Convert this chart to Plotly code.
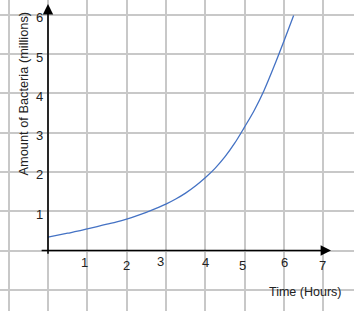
import plotly.graph_objects as go

# Data (every quarter hour)
hours = [0, 0.25, 0.5, 0.75, 1, 1.25, 1.5, 1.75, 2, 2.25, 2.5, 2.75, 3, 3.25, 3.5, 3.75,
         4, 4.25, 4.5, 4.75, 5, 5.25, 5.5, 5.75, 6, 6.25]
bacteria = [0.34, 0.39, 0.44, 0.49, 0.55, 0.61, 0.67, 0.73, 0.80, 0.88, 0.97, 1.07, 1.18, 1.31,
            1.46, 1.64, 1.85, 2.09, 2.38, 2.73, 3.14, 3.57, 4.08, 4.68, 5.32, 5.98]
x_ticks = [1, 2, 3, 4, 5, 6, 7]
y_ticks = [1, 2, 3, 4, 5, 6]

# Small hand-placement offsets of the x tick labels (px)
x_label_dx = [-3, 0, -5, 0, -2, 1, -1]
x_label_dy = [-12, -15, -11, -12, -15, -12, -15]

UNIT = 39.3
W, H = 354, 311
OX, OY = 48, 250.5
xr = [-OX / UNIT, (W - OX) / UNIT]
yr = [-(H - OY) / UNIT, OY / UNIT]

FONT = "Liberation Sans, Arial, sans-serif"

fig = go.Figure()
fig.add_trace(go.Scatter(x=hours, y=bacteria, mode="lines",
                         line=dict(color="#4472C4", width=1.3, shape="spline", smoothing=1),
                         hoverinfo="skip", showlegend=False))

ann = []
# axes with arrows
ann.append(dict(x=0, y=(OY - 4) / UNIT, ax=0, ay=-0.12, xref="x", yref="y", axref="x", ayref="y",
                showarrow=True, arrowhead=2, arrowsize=1.3, arrowwidth=1.6, arrowcolor="black",
                text="", standoff=0))
ann.append(dict(x=(331 - OX) / UNIT, y=0, ax=-0.2, ay=0, xref="x", yref="y", axref="x", ayref="y",
                showarrow=True, arrowhead=2, arrowsize=1.3, arrowwidth=1.6, arrowcolor="black",
                text="", standoff=0))
for i, t in enumerate(x_ticks):
    ann.append(dict(x=t, y=0, xref="x", yref="y", text=str(t), showarrow=False,
                    xanchor="center", yanchor="middle", xshift=x_label_dx[i], yshift=x_label_dy[i],
                    font=dict(family=FONT, size=13, color="#222")))
for t in y_ticks:
    ann.append(dict(x=0, y=t, xref="x", yref="y", text=str(t), showarrow=False,
                    xanchor="right", yanchor="middle", xshift=-3, yshift=-3,
                    font=dict(family=FONT, size=13, color="#222")))
ann.append(dict(x=305, y=H - 292, xref="paper", yref="paper", text="Time (Hours)", showarrow=False,
                xanchor="center", yanchor="middle", font=dict(family=FONT, size=12.5, color="#222")))
ann.append(dict(x=22.5, y=H - 94, xref="paper", yref="paper", text="Amount of Bacteria (millions)",
                showarrow=False, textangle=-90, xanchor="center", yanchor="middle",
                font=dict(family=FONT, size=12.8, color="#222")))
# convert pixel-based paper positions
for a in ann[-2:]:
    a["x"] = a["x"] / W
    a["y"] = a["y"] / H

fig.update_layout(
    width=W, height=H, margin=dict(l=0, r=0, t=0, b=0),
    paper_bgcolor="white", plot_bgcolor="white",
    xaxis=dict(range=xr, dtick=1, tick0=0, showgrid=True, gridcolor="#c8c8c8", gridwidth=1.5,
               zeroline=False, showticklabels=False, ticks="", showline=False),
    yaxis=dict(range=yr, dtick=1, tick0=0, showgrid=True, gridcolor="#c8c8c8", gridwidth=1.5,
               zeroline=False, showticklabels=False, ticks="", showline=False),
    annotations=ann,
)
fig.write_html("out.html")
